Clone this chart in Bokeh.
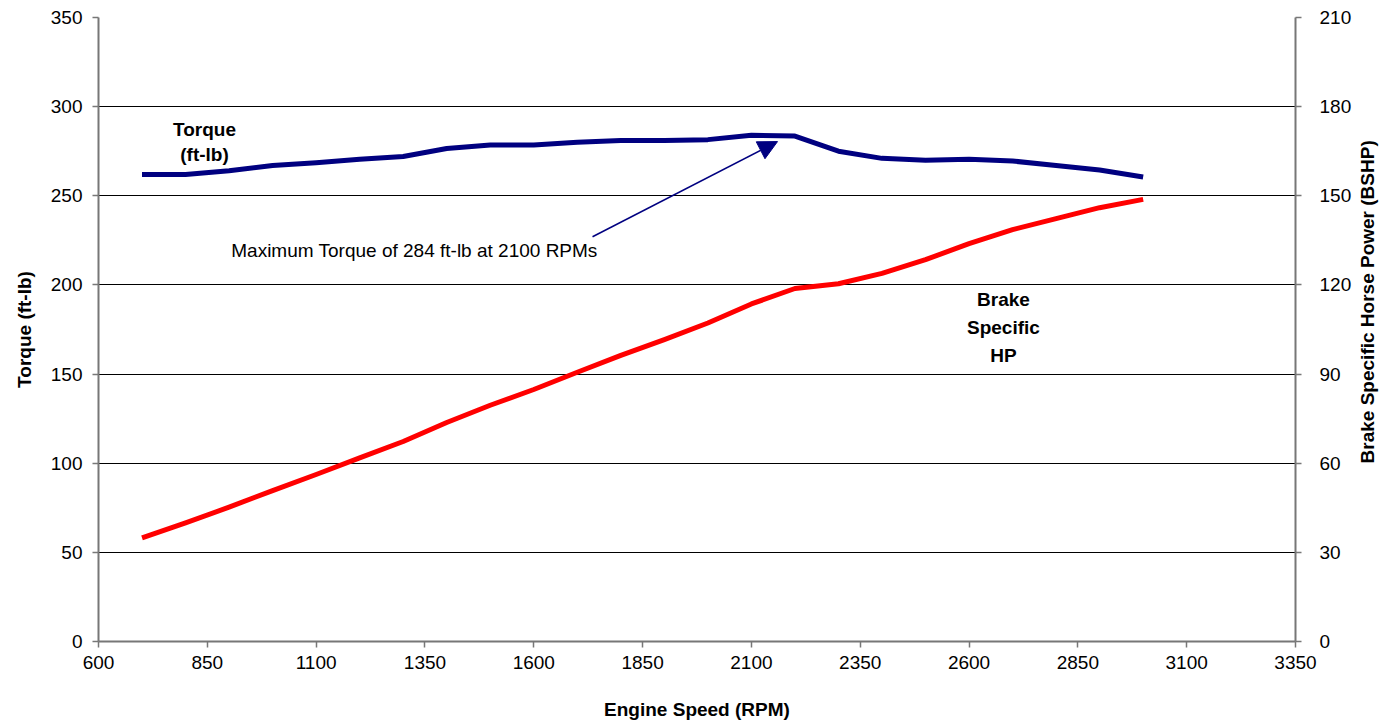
import math
from bokeh.plotting import figure
from bokeh.layouts import row
from bokeh.models import LinearAxis, Range1d, Arrow, NormalHead, Label, FixedTicker, ColumnDataSource
from bokeh.core.properties import value
from bokeh.embed import file_html
from bokeh.resources import INLINE

# ---- data ----
rpm = [700, 800, 900, 1000, 1100, 1200, 1300, 1400, 1500, 1600, 1700, 1800,
       1900, 2000, 2100, 2200, 2300, 2400, 2500, 2600, 2700, 2800, 2900, 3000]
torque = [262, 262, 264, 267, 268.5, 270.5, 272, 276.5, 278.5, 278.5, 280, 281,
          281, 281.5, 284, 283.5, 275, 271, 270, 270.5, 269.5, 267, 264.5, 260.5]
bshp = [34.9, 39.9, 45.2, 50.8, 56.2, 61.8, 67.3, 73.7, 79.5, 84.8, 90.6, 96.3,
        101.6, 107.2, 113.6, 118.8, 120.4, 123.9, 128.5, 133.9, 138.6, 142.3, 146.0, 148.8]

x_ticks = [600, 850, 1100, 1350, 1600, 1850, 2100, 2350, 2600, 2850, 3100, 3350]
y_ticks = [0, 50, 100, 150, 200, 250, 300, 350]
y2_ticks = [0, 30, 60, 90, 120, 150, 180, 210]

FONT = "Liberation Sans"
FS = "19px"
AXIS_COLOR = "#777777"
H = 722

src = ColumnDataSource(dict(rpm=rpm, torque=torque, bshp=bshp))

p = figure(width=1357, height=H, output_backend="svg", toolbar_location=None,
           x_range=Range1d(600, 3350), y_range=Range1d(0, 350),
           min_border_left=98, min_border_right=62, min_border_top=17, min_border_bottom=77)
p.extra_y_ranges = {"hp": Range1d(0, 210)}
p.outline_line_color = None
p.background_fill_color = "white"

p.xgrid.visible = False
p.ygrid.grid_line_color = "black"
p.ygrid.grid_line_width = 1

def style_axis(ax, ticks, label, label_standoff, tick_standoff=10):
    ax.ticker = FixedTicker(ticks=ticks)
    ax.axis_label = label
    ax.axis_label_text_font = FONT
    ax.axis_label_text_font_size = FS
    ax.axis_label_text_font_style = "bold"
    ax.axis_label_text_color = "black"
    ax.axis_label_standoff = label_standoff
    ax.major_label_text_font = FONT
    ax.major_label_text_font_size = FS
    ax.major_label_text_color = "black"
    ax.major_label_standoff = tick_standoff
    ax.axis_line_color = AXIS_COLOR
    ax.axis_line_width = 2
    ax.major_tick_line_color = AXIS_COLOR
    ax.major_tick_line_width = 1.5
    ax.major_tick_out = 6
    ax.major_tick_in = 0
    ax.minor_tick_line_color = None

style_axis(p.xaxis[0], x_ticks, "Engine Speed (RPM)", 27, 8)
style_axis(p.yaxis[0], y_ticks, "Torque (ft-lb)", 13, 10)

ax2 = LinearAxis(y_range_name="hp")
style_axis(ax2, y2_ticks, None, 13, 18)
p.add_layout(ax2, "right")

p.line("rpm", "torque", source=src, line_color="#000080", line_width=5, line_join="round")
p.line("rpm", "bshp", source=src, y_range_name="hp", line_color="#FF0000", line_width=5, line_join="round")

# annotations
p.add_layout(Arrow(end=NormalHead(size=19, fill_color="#000080", line_color="#000080"),
                   x_start=1735, y_start=227, x_end=2160, y_end=280.4,
                   line_color="#000080", line_width=1.5))
p.add_layout(Label(x=905, y=219.3, text="Maximum Torque of 284 ft-lb at 2100 RPMs",
                   text_font=FONT, text_font_size=FS, text_color="black",
                   text_baseline="middle", text_align="left"))
for txt, yy in [("Torque", 287.2), ("(ft-lb)", 273.1)]:
    p.add_layout(Label(x=843.5, y=yy, text=txt, text_font=FONT, text_font_size=FS, text_color="black",
                       text_font_style="bold", text_baseline="middle", text_align="center"))
for txt, yy in [("Brake", 191.8), ("Specific", 176.1), ("HP", 160.4)]:
    p.add_layout(Label(x=2679, y=yy, text=txt, text_font=FONT, text_font_size=FS, text_color="black",
                       text_font_style="bold", text_baseline="middle", text_align="center"))

# right-hand axis title, reading bottom-to-top as in the reference
W2 = 24
p2 = figure(width=W2, height=H, output_backend="svg", toolbar_location=None,
            x_range=Range1d(0, W2), y_range=Range1d(0, H),
            x_axis_location=None, y_axis_location=None,
            min_border_left=0, min_border_right=0, min_border_top=0, min_border_bottom=0)
p2.outline_line_color = None
p2.grid.visible = False
p2.text(x=[10], y=[H - 329], text=["Brake Specific Horse Power (BSHP)"], angle=math.pi / 2,
        text_font=value(FONT), text_font_size=value(FS), text_font_style="bold",
        text_color="black", text_align="center", text_baseline="middle")

layout = row(p, p2, spacing=0)
open("out.html", "w").write(file_html(layout, INLINE))
